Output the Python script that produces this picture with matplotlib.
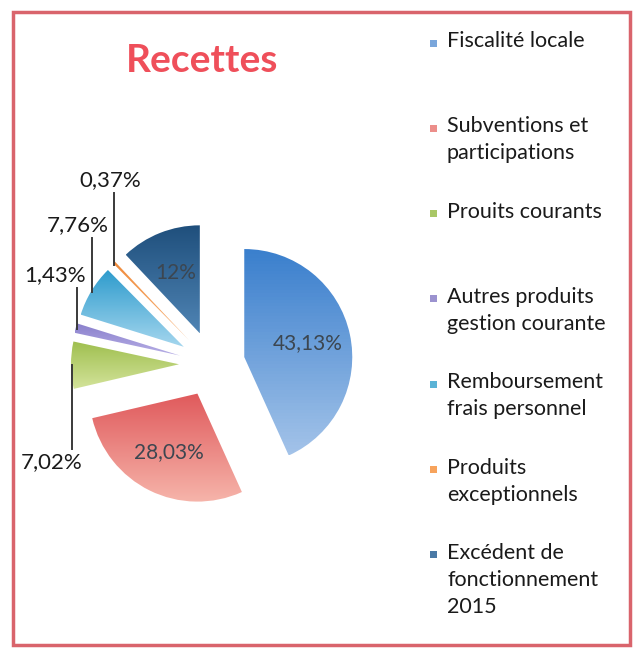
import numpy as np
import matplotlib
matplotlib.use("Agg")
import matplotlib.pyplot as plt
from matplotlib.colors import LinearSegmentedColormap
from matplotlib.patches import Rectangle

# Data
categories = ["Fiscalité locale", "Subventions et\nparticipations", "Prouits courants",
              "Autres produits\ngestion courante", "Remboursement\nfrais personnel",
              "Produits\nexceptionnels", "Excédent de\nfonctionnement\n2015"]
values = [43.13, 28.03, 7.02, 1.43, 7.76, 0.37, 12]
top_colors = ["#3a7fcd", "#e05a5c", "#9fbf4f", "#8a80cc", "#2f9ccd", "#f08a3a", "#1f4f7c"]
bottom_colors = ["#a3c3e9", "#f6b4aa", "#d3e39a", "#b7afe6", "#a4d6ee", "#f9b880", "#4f84b4"]
legend_colors = ["#7aa6db", "#ec8e8a", "#a9c766", "#9b92cf", "#5ab3d6", "#f7a35c", "#4a79a5"]

# label placement (pixel coords of the picture) for the small slices
outer_pos = {2: (52, 462), 3: (55, 275), 4: (78, 225), 5: (110, 180)}

W, H = 636, 648
plt.rcParams["font.family"] = ["Lato", "DejaVu Sans"]

fig = plt.figure(figsize=(W / 100, H / 100), dpi=100)
ax = fig.add_axes([0, 0, 1, 1])

cx, cy, r = 212, H - 364, 108
wedges, _ = ax.pie(values, startangle=90, counterclock=False, radius=r,
                   center=(cx, cy), explode=[33] * len(values),
                   wedgeprops=dict(linewidth=0))
ax.set_aspect("auto")
ax.axis("off")


def fmt(v):
    s = f"{v:.2f}".replace(".", ",")
    if s.endswith(",00"):
        s = s[:-3]
    return s + "%"


# gradient fill for each slice
for i, w in enumerate(wedges):
    verts = w.get_path().vertices
    x0, x1 = verts[:, 0].min(), verts[:, 0].max()
    y0, y1 = verts[:, 1].min(), verts[:, 1].max()
    cmap = LinearSegmentedColormap.from_list("g", [bottom_colors[i], top_colors[i]])
    grad = np.linspace(1, 0, 64).reshape(-1, 1)
    w.set_facecolor("none")
    im = ax.imshow(grad, cmap=cmap, extent=(x0, x1, y0, y1), aspect="auto",
                   origin="upper", zorder=1, vmin=0, vmax=1)
    im.set_clip_path(w)

ax.set_xlim(0, W)
ax.set_ylim(0, H)

# percentage labels
for i, w in enumerate(wedges):
    mid = np.deg2rad((w.theta1 + w.theta2) / 2)
    wx, wy = w.center
    if i in outer_pos:
        tx, ty = outer_pos[i]
        ty = H - ty
        ax.text(tx, ty, fmt(values[i]), ha="center", va="center", fontsize=16,
                color="#1a1a1a", zorder=3)
        px = wx + 0.97 * r * np.cos(mid)
        py = wy + 0.97 * r * np.sin(mid)
        if py < ty:
            ax.plot([px - 2, px - 2], [ty - 13, py], color="#3a3a3a", lw=1.4, zorder=3)
        else:
            ax.plot([px - 2, px - 2], [ty + 13, py], color="#3a3a3a", lw=1.4, zorder=3)
    else:
        lx = wx + 0.6 * r * np.cos(mid)
        ly = wy + 0.6 * r * np.sin(mid)
        ax.text(lx, ly, fmt(values[i]), ha="center", va="center", fontsize=15,
                color="#3c4650", zorder=3)

# title
ax.text(202, H - 60, "Recettes", ha="center", va="center", fontsize=28,
        fontweight="bold", color="#ef4f5a")

# legend
for i, (lab, col) in enumerate(zip(categories, legend_colors)):
    y = H - (43 + 85.3 * i)
    ax.add_patch(Rectangle((430, y - 3.5), 7, 7, facecolor=col, edgecolor="none"))
    ax.text(447, y + 12, lab, ha="left", va="top", fontsize=15.5, color="#1a1a1a",
            linespacing=1.45)

# frame
ax.add_patch(Rectangle((13, 3), 617, 633, facecolor="none", edgecolor="#d9646c",
                       lw=2.5, zorder=5))

fig.savefig("out.png", dpi=100)
